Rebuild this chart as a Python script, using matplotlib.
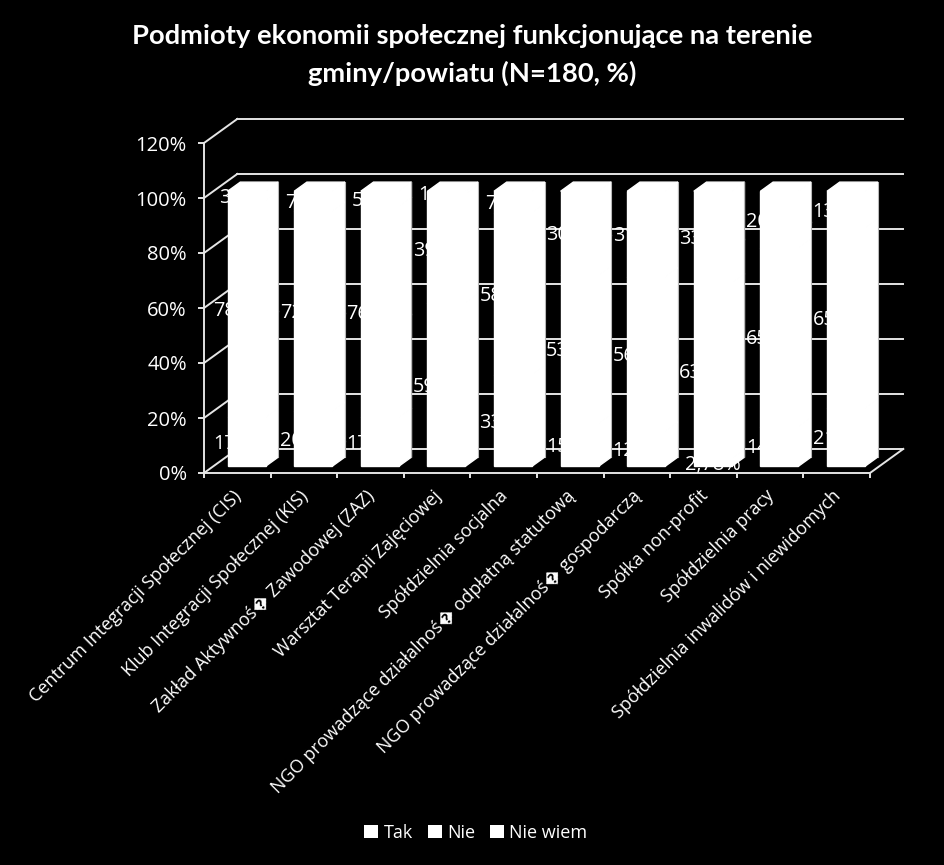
import matplotlib
matplotlib.use("Agg")
import matplotlib.pyplot as plt
from matplotlib.patches import Polygon, Rectangle
from matplotlib.ticker import FuncFormatter

BG = "#000000"
FG = "#FFFFFF"
GRID = "#E4E4E4"

TITLE = "Podmioty ekonomii społecznej funkcjonujące na terenie\ngminy/powiatu (N=180, %)"
CATEGORIES = [
    "Centrum Integracji Społecznej (CIS)",
    "Klub Integracji Społecznej (KIS)",
    "Zakład Aktywnoś\ufffd Zawodowej (ZAZ)",
    "Warsztat Terapii Zajęciowej",
    "Spółdzielnia socjalna",
    "NGO prowadzące działalnoś\ufffd odpłatną statutową",
    "NGO prowadzące działalnoś\ufffd gospodarczą",
    "Spółka non-profit",
    "Spółdzielnia pracy",
    "Spółdzielnia inwalidów i niewidomych",
]
TAK = [17.78, 20.00, 17.78, 59.44, 33.33, 15.56, 12.78, 2.78, 14.44, 21.11]
NIE = [78.89, 72.78, 76.67, 39.44, 58.89, 53.89, 56.11, 63.89, 65.00, 65.56]
NIE_WIEM = [3.33, 7.22, 5.56, 1.11, 7.78, 30.56, 31.11, 33.33, 20.56, 13.33]
SERIES = {"Tak": TAK, "Nie": NIE, "Nie wiem": NIE_WIEM}
Y_TICKS = [0, 20, 40, 60, 80, 100, 120]

# pseudo-3D: how far the back wall is shifted from the front plane, in data units
BACK_X = 0.50
BACK_Y = 8.75
BAR_FRONT = 0.28
BAR_BACK = 0.66
BAR_W = 0.57


def proj(x, y, depth):
    return x + depth * BACK_X, y + depth * BACK_Y


W, H = 945, 865
fig = plt.figure(figsize=(W / 100, H / 100), dpi=100, facecolor=BG)
ax = fig.add_axes([204 / W, 1 - 473 / H, 666 / W, 330 / H], facecolor="none")
n = len(CATEGORIES)
ax.set_xlim(0, n)
ax.set_ylim(0, 120)

# walls and floor
line_kw = dict(color=GRID, lw=1.4, clip_on=False, zorder=1)
for t in Y_TICKS:
    x0, y0 = proj(0, t, 1)
    x1, y1 = proj(n, t, 1)
    ax.plot([x0, x1], [y0, y1], **line_kw)
    ax.plot([0, x0], [t, y0], **line_kw)
xr, yr = proj(n, 0, 1)
ax.plot([n, xr], [0, yr], **line_kw)

# data labels are white and sit under the bars, as in the source chart
for i in range(n):
    bottom = 0
    for name, vals in SERIES.items():
        xt, yt = proj(i + 0.5, bottom + vals[i] / 2, BAR_FRONT)
        ax.annotate(f"{vals[i]:.2f}%".replace(".", ","), xy=(xt, yt), xytext=(0, -1.5),
                    textcoords="offset points", color=FG, fontsize=14.3, family="Open Sans",
                    ha="center", va="center", zorder=2.5, annotation_clip=False)
        bottom += vals[i]

# stacked bars, each with its side and top faces
face_kw = dict(fc=FG, ec=FG, lw=1.0, clip_on=False, zorder=3)
for i in range(n):
    left = i + 0.5 - BAR_W / 2
    right = left + BAR_W
    bottom = 0
    for name, vals in SERIES.items():
        top = bottom + vals[i]
        fx0, fy0 = proj(left, bottom, BAR_FRONT)
        fx1, fy1 = proj(right, top, BAR_FRONT)
        bx0, by0 = proj(right, bottom, BAR_BACK)
        bx1, by1 = proj(right, top, BAR_BACK)
        ax.add_patch(Polygon([(fx0, fy0), (fx1, fy0), (fx1, fy1), (fx0, fy1)], **face_kw))
        ax.add_patch(Polygon([(fx1, fy0), (bx0, by0), (bx1, by1), (fx1, fy1)], **face_kw))
        bottom = top
    tx0, ty0 = proj(left, bottom, BAR_FRONT)
    tx1, ty1 = proj(right, bottom, BAR_FRONT)
    ux0, uy0 = proj(left, bottom, BAR_BACK)
    ux1, uy1 = proj(right, bottom, BAR_BACK)
    ax.add_patch(Polygon([(tx0, ty0), (tx1, ty1), (ux1, uy1), (ux0, uy0)], **face_kw))
    # thin grey outline on the outer right edge
    ex0, ey0 = proj(right, 0, BAR_BACK)
    ax.plot([ex0, ux1], [ey0, uy1], color="#B8B8B8", lw=0.8, clip_on=False, zorder=3.5)

for s in ["top", "right"]:
    ax.spines[s].set_visible(False)
for s in ["left", "bottom"]:
    ax.spines[s].set_color(GRID)
    ax.spines[s].set_linewidth(1.4)
    ax.spines[s].set_zorder(2)

ax.set_yticks(Y_TICKS)
ax.yaxis.set_major_formatter(FuncFormatter(lambda v, _: f"{v:.0f}%"))
ax.set_xticks(range(n + 1))
ax.set_xticklabels([])
ax.tick_params(axis="y", colors=FG, length=4, width=1.4, color=GRID, labelsize=14.5, pad=8.3)
ax.tick_params(axis="x", colors=FG, length=3.6, width=1.4, color=GRID)
for lab in ax.get_yticklabels():
    lab.set_family("Open Sans")

for i, cat in enumerate(CATEGORIES):
    ax.annotate(cat, xy=(i + 0.5, 0), xytext=(-3.5, -10), textcoords="offset points",
                rotation=45, rotation_mode="anchor", ha="right", va="top", color=FG,
                fontsize=13, family=["Open Sans", "DejaVu Sans"], annotation_clip=False)

fig.text(472 / W, 1 - 55.5 / H, TITLE, color=FG, fontsize=19.7, fontweight="bold",
         family="Lato", ha="center", va="center", linespacing=1.6)

handles = [Rectangle((0, 0), 1, 1, fc=FG, ec="none") for _ in SERIES]
fig.legend(handles, list(SERIES), loc="center", bbox_to_anchor=(476 / W, 1 - 833 / H),
           ncols=3, frameon=False, labelcolor=FG, handlelength=0.75, handleheight=0.75,
           handletextpad=0.3, columnspacing=0.85, prop={"family": "Open Sans", "size": 13})

plt.savefig("out.png", dpi=100, facecolor=BG)
